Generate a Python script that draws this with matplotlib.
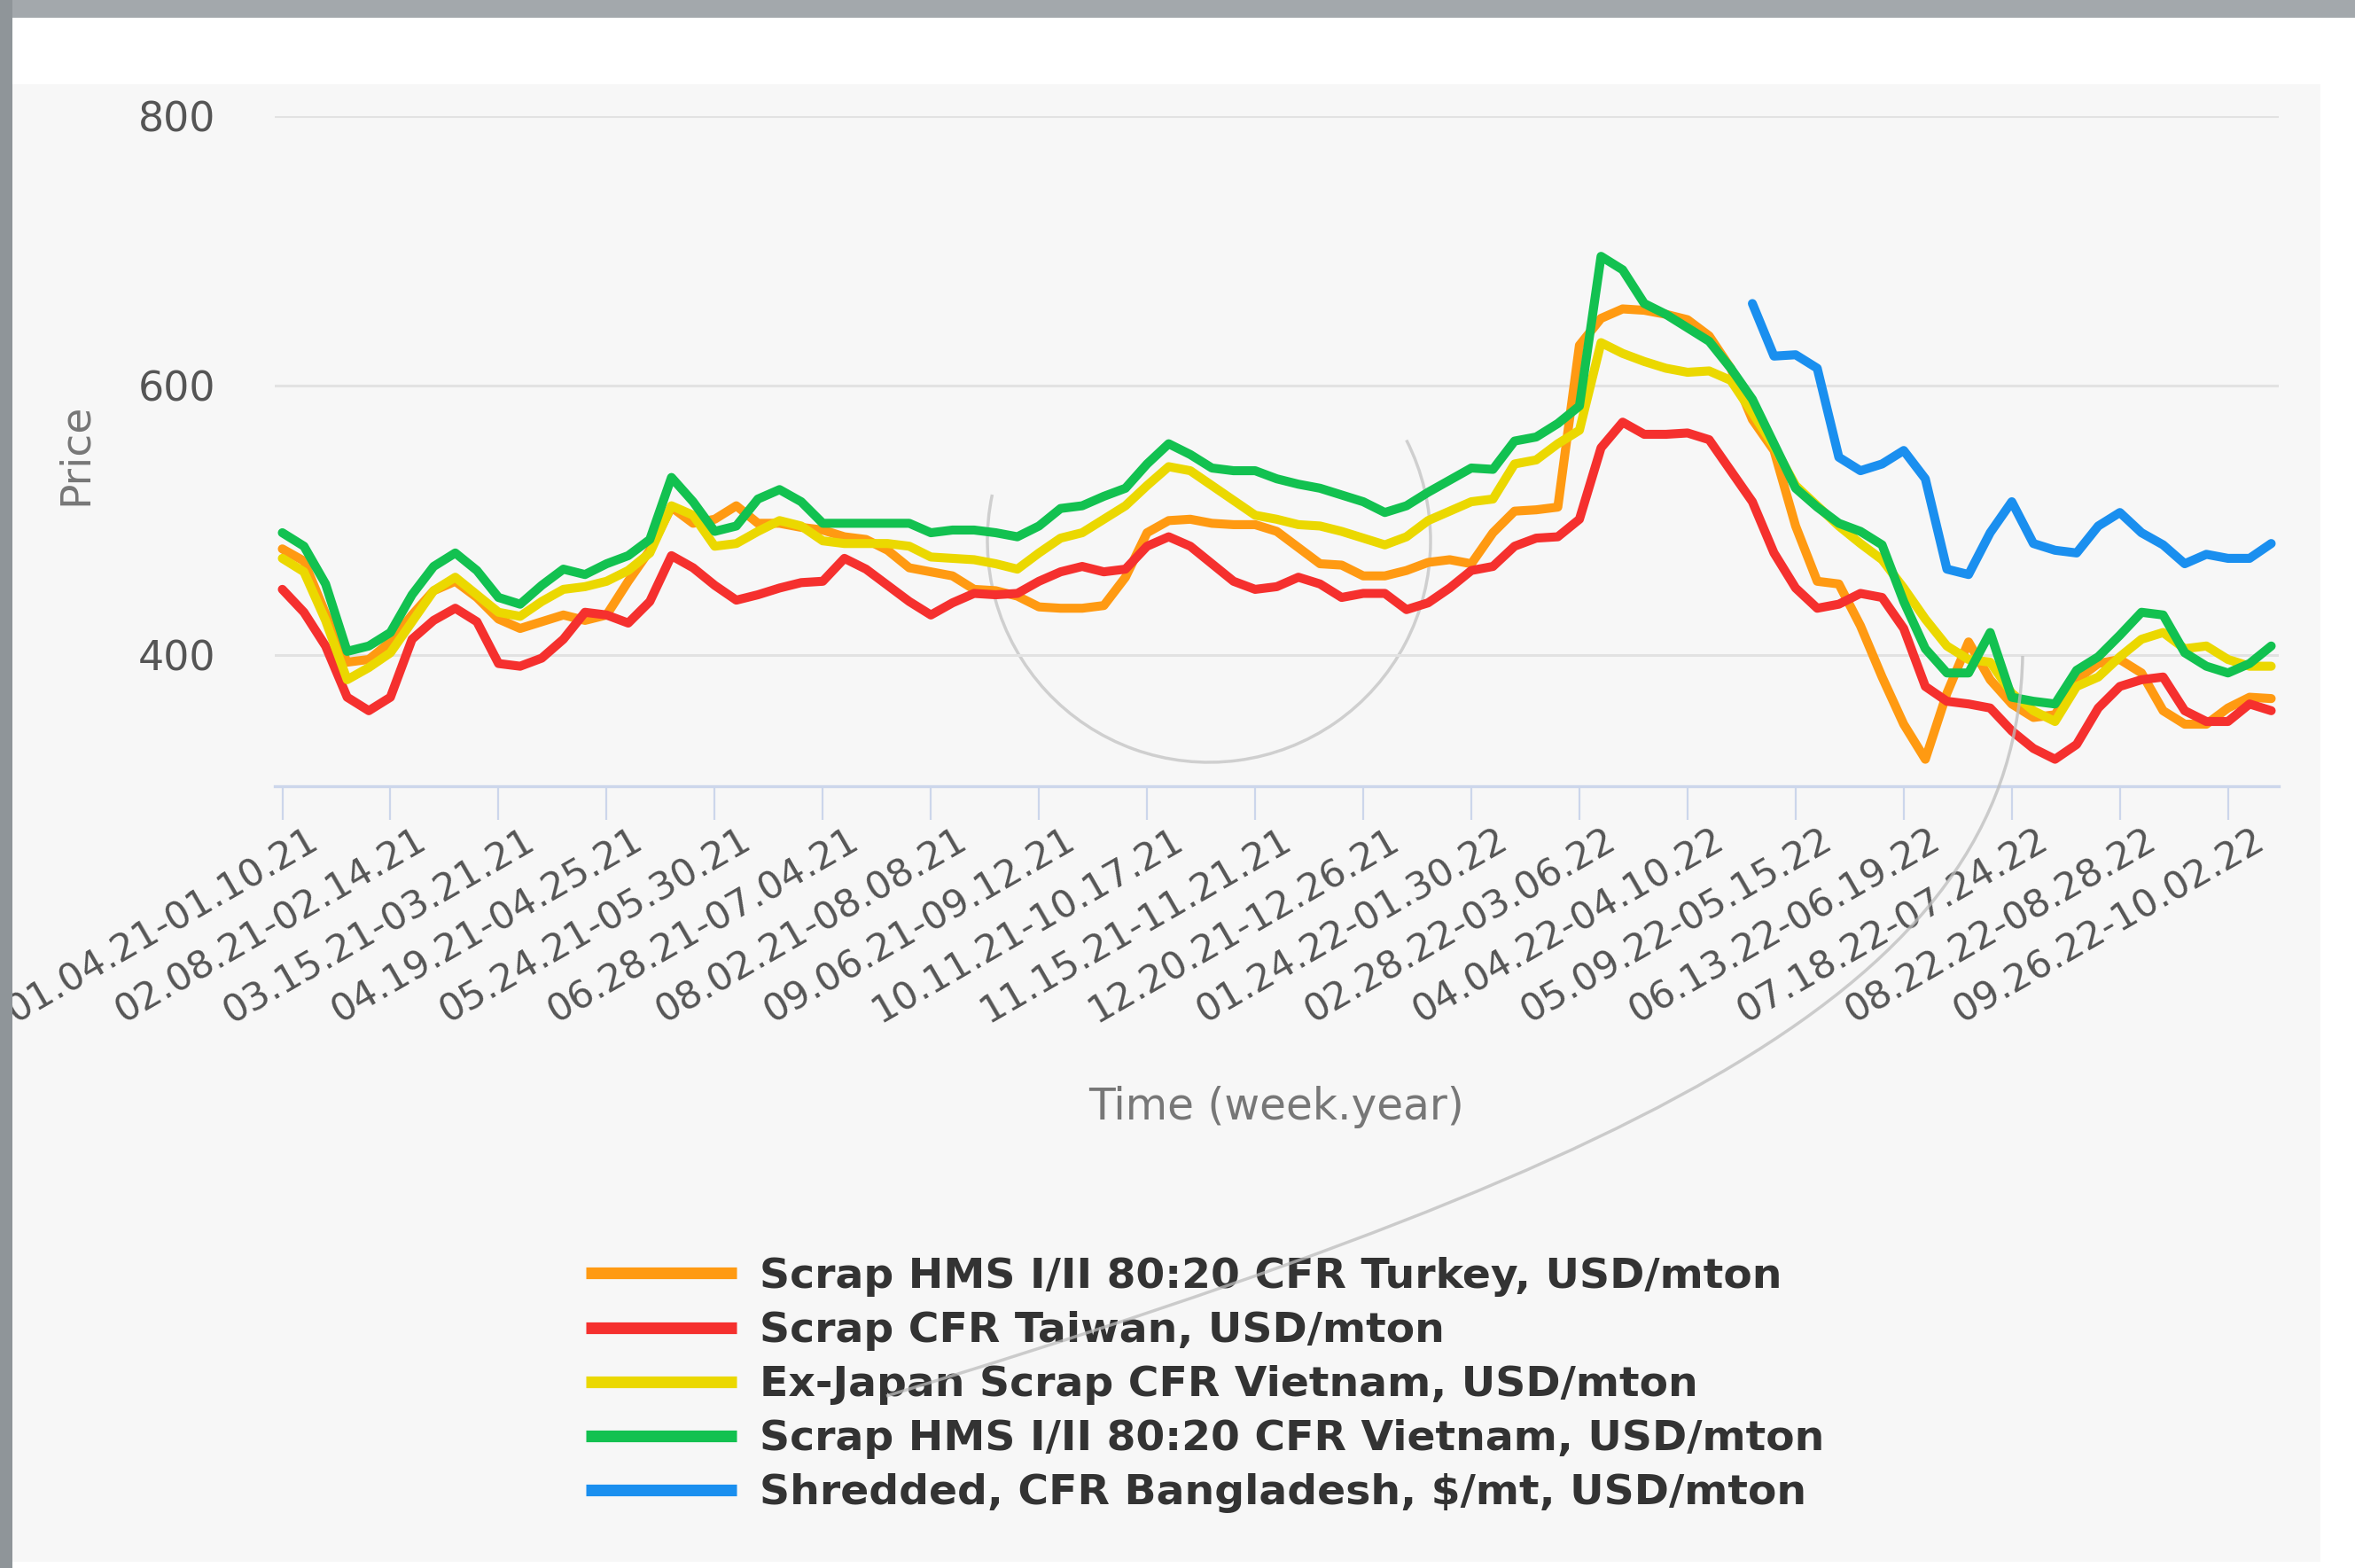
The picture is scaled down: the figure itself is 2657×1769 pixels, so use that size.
import numpy as np
import matplotlib
matplotlib.use("Agg")
import matplotlib.pyplot as plt
from matplotlib.patches import Rectangle, Arc, PathPatch
from matplotlib.path import Path
from matplotlib.lines import Line2D
from matplotlib.transforms import ScaledTranslation, IdentityTransform

# ---------------- data ----------------
tick_labels = ['01.04.21-01.10.21', '02.08.21-02.14.21', '03.15.21-03.21.21', '04.19.21-04.25.21',
               '05.24.21-05.30.21', '06.28.21-07.04.21', '08.02.21-08.08.21', '09.06.21-09.12.21',
               '10.11.21-10.17.21', '11.15.21-11.21.21', '12.20.21-12.26.21', '01.24.22-01.30.22',
               '02.28.22-03.06.22', '04.04.22-04.10.22', '05.09.22-05.15.22', '06.13.22-06.19.22',
               '07.18.22-07.24.22', '08.22.22-08.28.22', '09.26.22-10.02.22']
tick_step = 5  # one label every 5 weekly categories

turkey = [479, 470, 431, 395, 397, 410, 430, 448, 455, 443, 427, 420, 425, 430, 426, 430, 455, 478, 510, 498,
          501, 511, 498, 498, 495, 493, 488, 486, 478, 465, 462, 459, 449, 448, 444, 436, 435, 435, 437, 458,
          491, 500, 501, 498, 497, 497, 492, 480, 468, 467, 459, 459, 463, 469, 471, 468, 491, 507, 508, 510,
          630, 650, 657, 656, 653, 649, 637, 613, 575, 552, 496, 455, 453, 422, 384, 349, 323, 372, 410, 382,
          364, 354, 356, 382, 394, 397, 387, 359, 349, 349, 361, 369, 368]
taiwan = [449, 432, 407, 369, 359, 369, 412, 426, 435, 425, 394, 392, 398, 412, 432, 430, 424, 440, 474, 465,
          452, 441, 445, 450, 454, 455, 472, 464, 452, 440, 430, 439, 446, 445, 446, 455, 462, 466, 462, 464,
          481, 488, 481, 468, 455, 449, 451, 458, 453, 443, 446, 446, 434, 439, 450, 463, 466, 481, 487, 488,
          501, 554, 573, 564, 564, 565, 560, 537, 514, 476, 450, 435, 438, 446, 443, 420, 377, 366, 364, 361,
          344, 331, 323, 334, 361, 377, 382, 384, 359, 351, 351, 364, 359]
japan_vietnam = [472, 462, 426, 382, 391, 402, 425, 448, 458, 445, 432, 429, 440, 449, 451, 455, 463, 476, 511, 504,
                 481, 483, 492, 500, 496, 485, 483, 483, 483, 481, 473, 472, 471, 468, 464, 476, 487, 491, 501, 511,
                 526, 540, 537, 526, 515, 504, 501, 497, 496, 492, 487, 482, 488, 500, 507, 514, 516, 542, 545, 557,
                 567, 632, 624, 618, 613, 610, 611, 604, 580, 555, 526, 511, 496, 483, 471, 450, 427, 407, 397, 395,
                 372, 359, 351, 377, 384, 399, 412, 417, 405, 407, 397, 392, 392]
hms_vietnam = [491, 481, 453, 403, 407, 417, 445, 466, 476, 463, 443, 438, 452, 464, 460, 468, 474, 486, 532, 514,
               492, 496, 516, 523, 514, 498, 498, 498, 498, 498, 491, 493, 493, 491, 488, 496, 509, 511, 518, 524,
               542, 557, 549, 539, 537, 537, 531, 527, 524, 519, 514, 506, 511, 521, 530, 539, 538, 559, 562, 572,
               585, 696, 686, 661, 653, 643, 633, 613, 590, 557, 524, 510, 498, 492, 482, 440, 405, 387, 387, 417,
               369, 366, 364, 389, 399, 415, 432, 430, 402, 392, 387, 394, 407]
bangladesh = [None] * 68 + [661, 622, 623, 613, 547, 537, 542, 552, 531, 464, 460, 491, 514, 483, 478, 476,
                            496, 506, 491, 482, 468, 475, 472, 472, 483]

series_names = ['Scrap HMS I/II 80:20 CFR Turkey, USD/mton',
                'Scrap CFR Taiwan, USD/mton',
                'Ex-Japan Scrap CFR Vietnam, USD/mton',
                'Scrap HMS I/II 80:20 CFR Vietnam, USD/mton',
                'Shredded, CFR Bangladesh, $/mt, USD/mton']
series_colors = ['#FF9A12', '#F5302E', '#EBD800', '#12C150', '#1A8FEF']
series_values = [turkey, taiwan, japan_vietnam, hms_vietnam, bangladesh]

# ---------------- figure ----------------
W, H = 2657, 1769
fig = plt.figure(figsize=(W / 100, H / 100), dpi=100, facecolor='white')


def frect(x0, y0, x1, y1, color, z):
    fig.add_artist(Rectangle((x0 / W, 1 - y1 / H), (x1 - x0) / W, (y1 - y0) / H,
                             transform=fig.transFigure, facecolor=color, edgecolor='none', zorder=z))


# screenshot background
frect(14, 95, 2618, 1762, '#f7f7f7', -10)
frect(0, 0, W, 20, '#a3a8ac', 20)
frect(0, 0, 14, H, '#8f9599', 20)

# faint watermark reflections of the screenshot
fig.add_artist(Arc((1364, H - 610), 500, 500, theta1=168, theta2=387, transform=IdentityTransform(),
                   edgecolor='#cfcfcf', lw=2.5, zorder=-5))
swoosh = Path([(2282, H - 740), (2275, H - 1100), (1900, H - 1300), (1000, H - 1575)],
              [Path.MOVETO, Path.CURVE4, Path.CURVE4, Path.CURVE4])
fig.add_artist(PathPatch(swoosh, transform=IdentityTransform(), facecolor='none',
                         edgecolor='#bdbdbd', lw=2.5, alpha=0.75, zorder=15))

ax = fig.add_axes([310 / W, 1 - 887 / H, (2571 - 310) / W, (887 - 131) / H])
ax.set_facecolor('none')

x = np.arange(len(turkey))
for vals, col in zip(series_values, series_colors):
    y = np.array([np.nan if v is None else v for v in vals], dtype=float)
    ax.plot(x, y, color=col, lw=7.3, solid_joinstyle='round', solid_capstyle='round', zorder=3)

ax.set_xlim(-0.35, len(turkey) - 1 + 0.35)
ax.set_ylim(303, 800)

for s in ['left', 'right', 'top']:
    ax.spines[s].set_visible(False)
ax.spines['bottom'].set_color('#ccd6eb')
ax.spines['bottom'].set_linewidth(2.4)

ax.set_yticks([400, 600, 800])
ax.set_yticklabels(['400', '600', '800'])
ax.yaxis.grid(True, color='#e2e2e2', lw=2.2)
ax.set_axisbelow(True)
ax.tick_params(axis='y', length=0, pad=48, labelsize=33, labelcolor='#555555')

ax.set_xticks(np.arange(0, len(turkey), tick_step))
ax.set_xticklabels(tick_labels)
ax.tick_params(axis='x', length=27, width=1.6, color='#ccd6eb', pad=2, labelsize=31, labelcolor='#555555')
shift = ScaledTranslation(27 / 100, 0, fig.dpi_scale_trans)
for lab in ax.get_xticklabels():
    lab.set_rotation(30)
    lab.set_ha('right')
    lab.set_va('top')
    lab.set_rotation_mode('anchor')
    lab.set_transform(lab.get_transform() + shift)

fig.text(85 / W, 1 - 512 / H, 'Price', rotation=90, ha='center', va='center', fontsize=34, color='#777777')
fig.text(1440 / W, 1 - 1249 / H, 'Time (week.year)', ha='center', va='center', fontsize=35, color='#777777')

handles = [Line2D([0], [0], color=c, lw=9.5, solid_capstyle='butt') for c in series_colors]
leg = fig.legend(handles, series_names, loc='upper left', bbox_to_anchor=(661 / W, 1 - 1418 / H),
                 frameon=False, prop={'size': 34, 'weight': 'bold'}, handlelength=3.6,
                 handletextpad=0.55, labelspacing=0.34, borderpad=0, borderaxespad=0)
for t in leg.get_texts():
    t.set_color('#333333')

fig.savefig('out.png', dpi=100, facecolor=fig.get_facecolor())
